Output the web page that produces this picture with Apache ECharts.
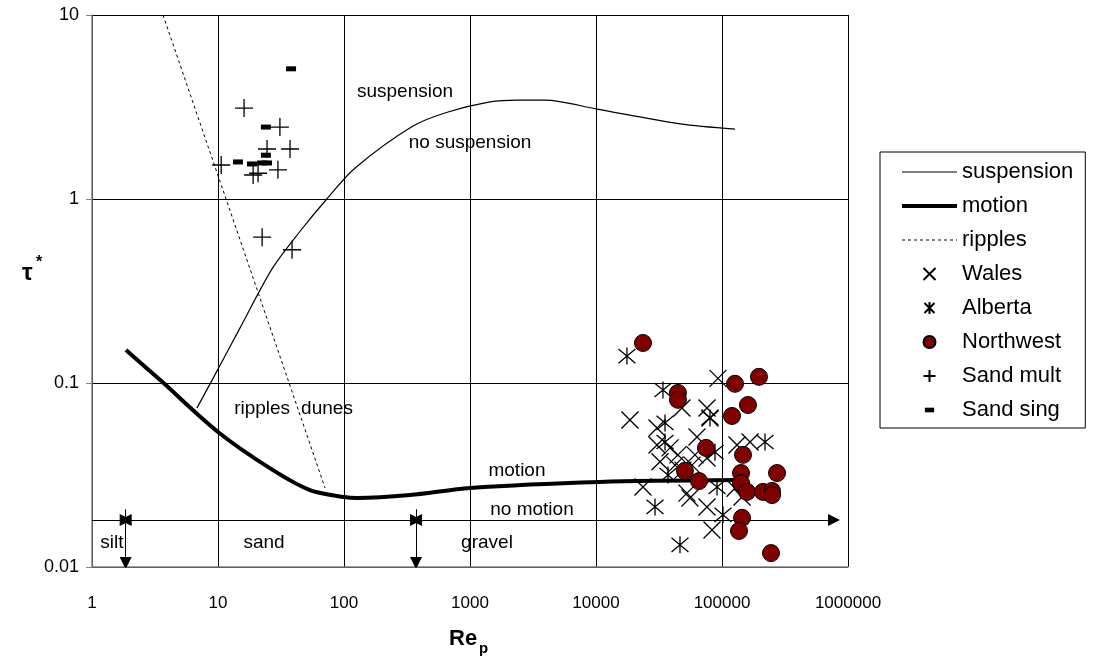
<!DOCTYPE html>
<html>
<head>
<meta charset="utf-8">
<script src="https://cdn.jsdelivr.net/npm/echarts@6/dist/echarts.min.js"></script>
<style>
  html, body { margin: 0; padding: 0; background: #fff; }
  #chart { width: 1093px; height: 659px; }
</style>
</head>
<body>
<div id="chart"></div>
<script>
  // tick values and their labels
  const xTicks = [1, 10, 100, 1000, 10000, 100000, 1000000]
  const xTickLabels = ['1', '10', '100', '1000', '10000', '100000', '1000000']
  const yTicks = [0.01, 0.1, 1, 10]
  const yTickLabels = ['0.01', '0.1', '1', '10']

  // curves [Re_p, tau*]
  const suspension = [[6.8, 0.073], [9, 0.104], [15, 0.2], [27, 0.42], [45, 0.67], [73, 1.0], [122, 1.47],
    [353, 2.49], [669, 2.97], [1442, 3.37], [2360, 3.45], [3940, 3.45], [10190, 3.08], [46400, 2.56], [126900, 2.4]]
  const motion = [[1.86, 0.151], [3.46, 0.104], [10, 0.0542], [27.3, 0.0336], [53.7, 0.0262], [100, 0.024],
    [127, 0.0237], [334, 0.0246], [1000, 0.0269], [10700, 0.029], [131500, 0.0297]]
  const ripples = [[3.66, 10], [70.7, 0.0269]]

  // field data
  const wales = [[92900, 0.106], [18600, 0.063], [76000, 0.0731], [80300, 0.0646], [30500, 0.0569], [30500, 0.046],
    [63300, 0.0509], [44700, 0.0407], [61000, 0.0407], [76000, 0.0391], [131500, 0.046], [166900, 0.0478],
    [23600, 0.0272], [52700, 0.0252], [55700, 0.0237], [76000, 0.0212], [83300, 0.0159], [48100, 0.0731],
    [42400, 0.0358], [57800, 0.0358], [144200, 0.024], [126800, 0.0268], [38700, 0.0444], [49000, 0.0336],
    [32200, 0.0373]]
  const alberta = [[17600, 0.14], [34000, 0.0916], [35300, 0.0607], [35300, 0.0478], [88000, 0.0421],
    [219500, 0.0478], [37300, 0.0316], [91300, 0.0272], [101800, 0.0192], [29400, 0.0212], [46400, 0.0132],
    [80300, 0.0646]]
  const northwest = [[23600, 0.165], [44700, 0.0883], [44700, 0.081], [126800, 0.099], [196600, 0.108],
    [160700, 0.0759], [120000, 0.0662], [74600, 0.0444], [146800, 0.0407], [50800, 0.0333], [65700, 0.0293],
    [141600, 0.0324], [141600, 0.0286], [157900, 0.0256], [273400, 0.0324], [211500, 0.0256], [249300, 0.0259],
    [249300, 0.0246], [144200, 0.0185], [136400, 0.0157], [244900, 0.0119]]
  const sandMult = [[16.1, 3.12], [31, 2.46], [24.5, 1.87], [37.3, 1.87], [10.6, 1.53], [29.9, 1.44],
    [19, 1.35], [20.8, 1.38], [22.4, 0.62], [38.7, 0.53]]
  const sandSing = [[38, 5.1], [24, 2.46], [24, 1.73], [14.4, 1.59], [18.6, 1.55], [22.4, 1.57], [24.5, 1.57]]

  // size classes: boundaries silt/sand and sand/gravel, level of the arrow line
  const classBounds = [1.85, 373]
  const classLevel = 0.018
  const classEnd = 774000
  const arrowTop = 0.0206
  const arrowBottom = 0.0105

  // text notes placed in data space
  const notes = [
    {name: 'suspension', value: [305, 3.82]},
    {name: 'no suspension', value: [1000, 2.01]},
    {name: 'ripples', value: [22.4, 0.0723]},
    {name: 'dunes', value: [73.3, 0.0723]},
    {name: 'motion', value: [2360, 0.0333]},
    {name: 'no motion', value: [3105, 0.0204]},
    {name: 'silt', value: [1.44, 0.0135]},
    {name: 'sand', value: [23.2, 0.0135]},
    {name: 'gravel', value: [1364, 0.0135]}
  ]

  const pickLabel = (v, ticks, labels) => {
    for (let i = 0; i < ticks.length; i++) {
      if (Math.abs(Math.log10(v) - Math.log10(ticks[i])) < 1e-6) return labels[i]
    }
    return ''
  }

  const font = 'Liberation Sans, Arial, sans-serif'
  const pathX = 'path://M0,0L10,10M10,0L0,10'
  const pathStar = 'path://M0,0L10,10M10,0L0,10M5,-1L5,11'
  const pathPlus = 'path://M5,0L5,10M0,5L10,5'
  // dash with empty margins so the legend keeps it small
  const pathDash = 'path://M-10,-4L-10,-4M0,0L10,0L10,5L0,5ZM20,9L20,9'
  const markStyle = {color: '#000', borderColor: '#000', borderWidth: 1.3, opacity: 1}
  const noSymbol = {color: 'rgba(0,0,0,0)', borderColor: 'rgba(0,0,0,0)', borderWidth: 0}

  const chart = echarts.init(document.getElementById('chart'))
  chart.setOption({
    animation: false,
    backgroundColor: '#fff',
    textStyle: {fontFamily: font, color: '#000'},
    grid: {left: 92, right: 245, top: 15, bottom: 92},
    legend: {
      orient: 'vertical',
      left: 880,
      top: 152,
      padding: [9, 12, 7, 20],
      itemGap: 12,
      itemWidth: 55,
      itemHeight: 12,
      borderColor: '#000',
      borderWidth: 1,
      borderRadius: 0,
      backgroundColor: '#fff',
      textStyle: {fontSize: 22, color: '#000', fontFamily: font},
      data: [
        {name: 'suspension', itemStyle: noSymbol, lineStyle: {width: 1}},
        {name: 'motion', itemStyle: noSymbol, lineStyle: {width: 4}},
        {name: 'ripples', itemStyle: noSymbol, lineStyle: {width: 1}},
        'Wales', 'Alberta', 'Northwest', 'Sand mult', 'Sand sing'
      ]
    },
    xAxis: {
      type: 'log',
      logBase: 10,
      min: 1,
      max: 1000000,
      axisLine: {show: true, lineStyle: {color: '#808080', width: 1.5}},
      axisTick: {show: false},
      splitLine: {show: true, lineStyle: {color: '#000', width: 1}},
      axisLabel: {fontSize: 17, color: '#000', margin: 28, formatter: v => pickLabel(v, xTicks, xTickLabels)}
    },
    yAxis: {
      type: 'log',
      logBase: 10,
      min: 0.01,
      max: 10,
      axisLine: {show: true, lineStyle: {color: '#808080', width: 1.5}},
      axisTick: {show: true, length: 6, lineStyle: {color: '#808080'}},
      splitLine: {show: true, lineStyle: {color: '#000', width: 1}},
      axisLabel: {fontSize: 18, color: '#000', margin: 13, formatter: v => pickLabel(v, yTicks, yTickLabels)}
    },
    graphic: [
      {type: 'text', left: 22, top: 261, style: {text: 'τ', font: 'bold 24px ' + font, fill: '#000'}},
      {type: 'text', left: 36, top: 255, style: {text: '*', font: 'bold 16px ' + font, fill: '#000'}},
      {type: 'text', left: 449, top: 628, style: {text: 'Re', font: 'bold 22px ' + font, fill: '#000'}},
      {type: 'text', left: 479, top: 641, style: {text: 'p', font: 'bold 15px ' + font, fill: '#000'}}
    ],
    series: [
      {
        name: 'suspension', type: 'line', data: suspension, symbol: 'none', smooth: 0.3,
        lineStyle: {color: '#000', width: 1.2}, itemStyle: {color: '#000'}, z: 3
      },
      {
        name: 'motion', type: 'line', data: motion, symbol: 'none', smooth: 0.3,
        lineStyle: {color: '#000', width: 4}, itemStyle: {color: '#000'}, z: 3
      },
      {
        name: 'ripples', type: 'line', data: ripples, symbol: 'none',
        lineStyle: {color: '#000', width: 1, type: [3, 3]}, itemStyle: {color: '#000'}, z: 3
      },
      {name: 'Wales', type: 'scatter', data: wales, symbol: pathX, symbolSize: 17, itemStyle: markStyle, z: 4},
      {name: 'Alberta', type: 'scatter', data: alberta, symbol: pathStar, symbolSize: 17, itemStyle: markStyle, z: 4},
      {
        name: 'Northwest', type: 'scatter', data: northwest, symbol: 'circle', symbolSize: 17,
        itemStyle: {color: '#800000', borderColor: '#000', borderWidth: 1, opacity: 1}, z: 5
      },
      {name: 'Sand mult', type: 'scatter', data: sandMult, symbol: pathPlus, symbolSize: 18, itemStyle: markStyle, z: 4},
      {
        name: 'Sand sing', type: 'scatter', data: sandSing, symbol: pathDash, symbolSize: [30, 13],
        itemStyle: {color: '#000', borderWidth: 0, opacity: 1}, z: 4
      },
      {
        name: 'class arrows', type: 'lines', coordinateSystem: 'cartesian2d',
        symbol: ['none', 'triangle'], symbolSize: 12, silent: true, z: 3,
        lineStyle: {color: '#000', width: 1, opacity: 1},
        data: [
          {coords: [[1, classLevel], [classBounds[0], classLevel]]},
          {coords: [[classBounds[0], arrowTop], [classBounds[0], arrowBottom]]},
          {coords: [[classBounds[1], arrowTop], [classBounds[1], arrowBottom]]}
        ]
      },
      {
        name: 'class spans', type: 'lines', coordinateSystem: 'cartesian2d',
        symbol: ['triangle', 'triangle'], symbolSize: 12, silent: true, z: 3,
        lineStyle: {color: '#000', width: 1, opacity: 1},
        data: [
          {coords: [[classBounds[0], classLevel], [classBounds[1], classLevel]]},
          {coords: [[classBounds[1], classLevel], [classEnd, classLevel]]}
        ]
      },
      {
        name: 'notes', type: 'scatter', data: notes, symbolSize: 1, silent: true, z: 6,
        itemStyle: {color: 'rgba(0,0,0,0)', opacity: 1},
        label: {
          show: true, position: 'inside', formatter: p => p.name, fontSize: 19, color: '#000',
          fontFamily: font, textBorderWidth: 0, opacity: 1
        }
      }
    ]
  })
</script>
</body>
</html>
